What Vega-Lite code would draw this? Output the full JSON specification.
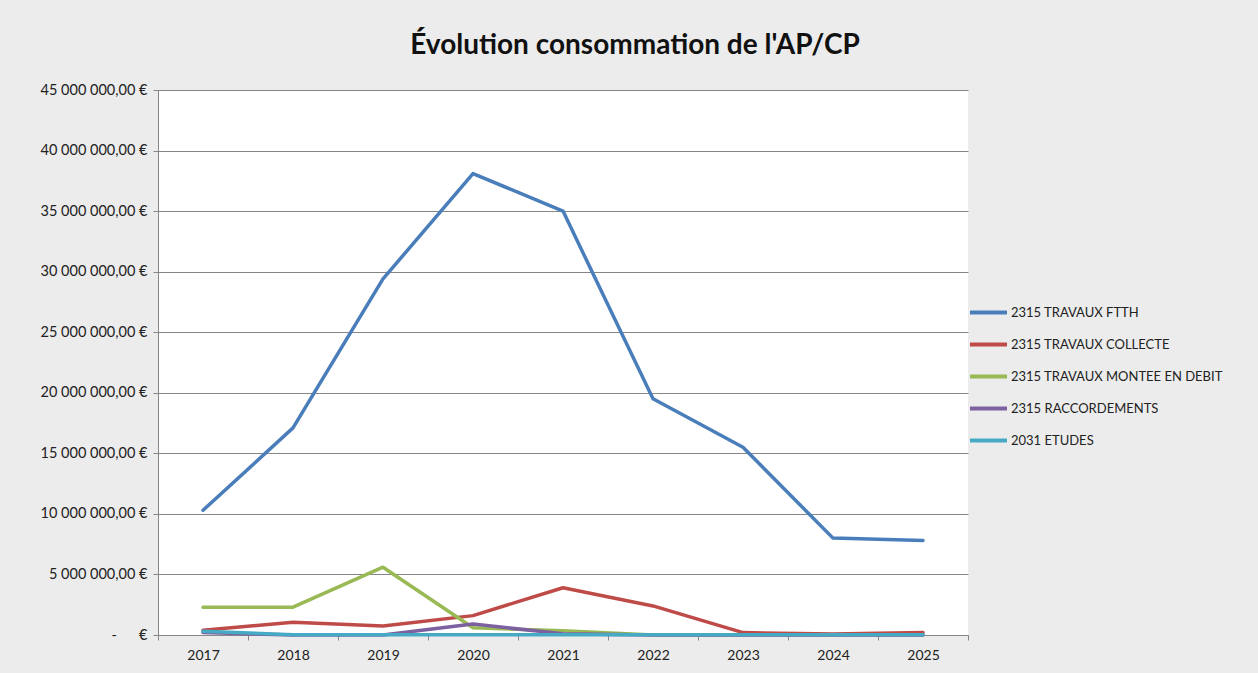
{
  "$schema": "https://vega.github.io/schema/vega-lite/v6.json",
  "autosize": "none",
  "width": 810,
  "height": 545,
  "padding": {"left": 158, "top": 90, "right": 290, "bottom": 38},
  "background": "#ececec",
  "title": {"text": "Évolution consommation de l'AP/CP", "font": "Lato", "fontSize": 28, "fontWeight": "bold", "color": "#111111", "anchor": "middle", "dx": 72, "offset": 22},
  "data": {"values": [
    {"annee": "2017", "serie": "2315 TRAVAUX FTTH", "montant": 10300000},
    {"annee": "2018", "serie": "2315 TRAVAUX FTTH", "montant": 17100000},
    {"annee": "2019", "serie": "2315 TRAVAUX FTTH", "montant": 29400000},
    {"annee": "2020", "serie": "2315 TRAVAUX FTTH", "montant": 38100000},
    {"annee": "2021", "serie": "2315 TRAVAUX FTTH", "montant": 35000000},
    {"annee": "2022", "serie": "2315 TRAVAUX FTTH", "montant": 19500000},
    {"annee": "2023", "serie": "2315 TRAVAUX FTTH", "montant": 15500000},
    {"annee": "2024", "serie": "2315 TRAVAUX FTTH", "montant": 8000000},
    {"annee": "2025", "serie": "2315 TRAVAUX FTTH", "montant": 7800000},
    {"annee": "2017", "serie": "2315 TRAVAUX COLLECTE", "montant": 400000},
    {"annee": "2018", "serie": "2315 TRAVAUX COLLECTE", "montant": 1050000},
    {"annee": "2019", "serie": "2315 TRAVAUX COLLECTE", "montant": 750000},
    {"annee": "2020", "serie": "2315 TRAVAUX COLLECTE", "montant": 1600000},
    {"annee": "2021", "serie": "2315 TRAVAUX COLLECTE", "montant": 3900000},
    {"annee": "2022", "serie": "2315 TRAVAUX COLLECTE", "montant": 2400000},
    {"annee": "2023", "serie": "2315 TRAVAUX COLLECTE", "montant": 200000},
    {"annee": "2024", "serie": "2315 TRAVAUX COLLECTE", "montant": 80000},
    {"annee": "2025", "serie": "2315 TRAVAUX COLLECTE", "montant": 200000},
    {"annee": "2017", "serie": "2315 TRAVAUX MONTEE EN DEBIT", "montant": 2300000},
    {"annee": "2018", "serie": "2315 TRAVAUX MONTEE EN DEBIT", "montant": 2300000},
    {"annee": "2019", "serie": "2315 TRAVAUX MONTEE EN DEBIT", "montant": 5600000},
    {"annee": "2020", "serie": "2315 TRAVAUX MONTEE EN DEBIT", "montant": 600000},
    {"annee": "2021", "serie": "2315 TRAVAUX MONTEE EN DEBIT", "montant": 350000},
    {"annee": "2022", "serie": "2315 TRAVAUX MONTEE EN DEBIT", "montant": 0},
    {"annee": "2023", "serie": "2315 TRAVAUX MONTEE EN DEBIT", "montant": 0},
    {"annee": "2024", "serie": "2315 TRAVAUX MONTEE EN DEBIT", "montant": 0},
    {"annee": "2025", "serie": "2315 TRAVAUX MONTEE EN DEBIT", "montant": 0},
    {"annee": "2017", "serie": "2315 RACCORDEMENTS", "montant": 200000},
    {"annee": "2018", "serie": "2315 RACCORDEMENTS", "montant": 0},
    {"annee": "2019", "serie": "2315 RACCORDEMENTS", "montant": 0},
    {"annee": "2020", "serie": "2315 RACCORDEMENTS", "montant": 900000},
    {"annee": "2021", "serie": "2315 RACCORDEMENTS", "montant": 100000},
    {"annee": "2022", "serie": "2315 RACCORDEMENTS", "montant": 0},
    {"annee": "2023", "serie": "2315 RACCORDEMENTS", "montant": 0},
    {"annee": "2024", "serie": "2315 RACCORDEMENTS", "montant": 0},
    {"annee": "2025", "serie": "2315 RACCORDEMENTS", "montant": 0},
    {"annee": "2017", "serie": "2031 ETUDES", "montant": 300000},
    {"annee": "2018", "serie": "2031 ETUDES", "montant": 20000},
    {"annee": "2019", "serie": "2031 ETUDES", "montant": 20000},
    {"annee": "2020", "serie": "2031 ETUDES", "montant": 20000},
    {"annee": "2021", "serie": "2031 ETUDES", "montant": 20000},
    {"annee": "2022", "serie": "2031 ETUDES", "montant": 20000},
    {"annee": "2023", "serie": "2031 ETUDES", "montant": 20000},
    {"annee": "2024", "serie": "2031 ETUDES", "montant": 20000},
    {"annee": "2025", "serie": "2031 ETUDES", "montant": 20000}
  ]},
  "mark": {"type": "line", "strokeWidth": 3.5, "strokeCap": "round", "strokeJoin": "round"},
  "encoding": {
    "x": {"field": "annee", "type": "ordinal", "bandPosition": 0.5,
      "scale": {"type": "band", "paddingInner": 0, "paddingOuter": 0},
      "axis": {"title": null, "labelAngle": 0, "labelFont": "Lato", "labelFontSize": 14, "labelColor": "#222222", "labelPadding": 8,
        "tickBand": "extent", "tickSize": 5, "tickColor": "#868686", "domainColor": "#868686", "grid": false}},
    "y": {"field": "montant", "type": "quantitative",
      "scale": {"domain": [0, 45000000], "nice": false},
      "axis": {"title": null, "values": [0, 5000000, 10000000, 15000000, 20000000, 25000000, 30000000, 35000000, 40000000, 45000000],
        "labelExpr": "datum.value == 0 ? '-\u00a0\u00a0\u00a0\u00a0\u00a0\u00a0€' : replace(replace(format(datum.value, ',.2f'), regexp(',', 'g'), ' '), '.', ',') + ' €'",
        "labelFont": "Lato", "labelFontSize": 14.5, "labelColor": "#222222", "labelPadding": 6,
        "tickSize": 5, "tickColor": "#868686", "domainColor": "#868686", "gridColor": "#868686", "gridWidth": 1}},
    "color": {"field": "serie", "type": "nominal",
      "scale": {"domain": ["2315 TRAVAUX FTTH", "2315 TRAVAUX COLLECTE", "2315 TRAVAUX MONTEE EN DEBIT", "2315 RACCORDEMENTS", "2031 ETUDES"],
        "range": ["#4a7ebb", "#be4b48", "#98b954", "#7d60a0", "#46aac5"]},
      "legend": {"title": null, "orient": "none", "legendX": 810, "legendY": 202, "symbolType": "stroke", "symbolSize": 1369, "symbolStrokeWidth": 4,
        "labelFont": "Lato", "labelFontSize": 13, "labelColor": "#222222", "labelLimit": 400, "rowPadding": 3, "labelOffset": 2}}
  },
  "config": {"view": {"fill": "#ffffff", "stroke": null}}
}
